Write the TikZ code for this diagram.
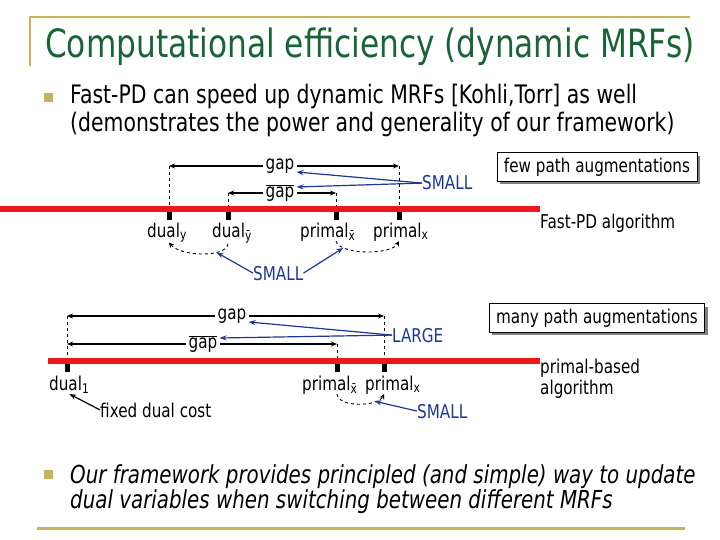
\documentclass[tikz,border=0pt]{standalone}
\usepackage{fontspec}
\setmainfont[FakeStretch=0.8]{DejaVu Sans}
\usetikzlibrary{arrows.meta,positioning,calc,shadows}
\definecolor{gold}{RGB}{200,178,90}
\definecolor{titlegreen}{RGB}{25,100,55}
\definecolor{smallblue}{RGB}{30,55,150}
\definecolor{barred}{RGB}{235,25,25}

\begin{document}
\begin{tikzpicture}[x=1pt,y=-1pt,>=Stealth,
  lbl/.style={font=\fontsize{19}{22}\selectfont,inner sep=0pt,anchor=base west},
  gaptxt/.style={font=\fontsize{19}{22}\selectfont,inner sep=2pt},
  bluetxt/.style={lbl,text=smallblue},
  tickbox/.style={fill=black,inner sep=0pt,minimum width=5pt,minimum height=8pt},
  redbar/.style={line width=6pt,barred},
  dimarr/.style={->,line width=1.2pt,>={Stealth[length=6pt,width=5pt]}},
  guide/.style={dashed,line width=0.6pt},
  swaparr/.style={->,dashed,line width=0.9pt,>={Stealth[length=5pt,width=5pt]}},
  bluearr/.style={->,smallblue,line width=1.2pt,>={Stealth[length=7pt,width=5pt]}},
  blackarr/.style={->,line width=1.2pt,>={Stealth[length=7pt,width=5pt]}},
  augbox/.style={draw,fill=white,line width=0.8pt,inner xsep=7pt,inner ysep=5pt,
    font=\fontsize{19}{22}\selectfont,
    drop shadow={shadow xshift=3pt,shadow yshift=-3pt,fill=black!50,opacity=1}},
  bulletsq/.style={fill=gold,minimum size=9pt,inner sep=0pt},
  bodytext/.style={anchor=base west,inner sep=0pt,font=\fontsize{25.5}{30}\selectfont}]
  \useasboundingbox (0,0) rectangle (720,540);

  % frame and title
  \draw[gold,line width=2pt] (30,66) -- (30,17) -- (690,17);
  \draw[gold,line width=3pt] (37,528) -- (685,528);
  \node[anchor=base west,inner sep=0pt,text=titlegreen,font=\fontsize{39}{44}\selectfont] (title) at (45,58) {Computational efficiency (dynamic MRFs)};
  \node[bulletsq] (b1) at (48,98) {};
  \node[bodytext] (b1a) at (70,104) {Fast-PD can speed up dynamic MRFs [Kohli,Torr] as well};
  \node[bodytext] (b1b) at (70,132) {(demonstrates the power and generality of our framework)};

  % Fast-PD
  \node[gaptxt] (g1) at (280,166) {gap};
  \node[gaptxt] (g1b) at (280,193) {$\overline{\mbox{gap}}$};
  \foreach \n/\x in {ty/169,tyb/228,txb/336,tx/399}
    \coordinate (\n) at (\x,216);
  \draw[guide] (ty |- g1) -- (ty);
  \draw[guide] (tx |- g1) -- (tx);
  \draw[guide] (tyb |- g1b) -- (tyb);
  \draw[guide] (txb |- g1b) -- (txb);
  \draw[redbar] (0,209) -- (540,209);
  \foreach \n in {ty,tyb,txb,tx}
    \node[tickbox] at (\n) {};
  \draw[dimarr] (g1.west) -- (ty |- g1.west);
  \draw[dimarr] (g1.east) -- (tx |- g1.east);
  \draw[dimarr] (g1b.west) -- (tyb |- g1b.west);
  \draw[dimarr] (g1b.east) -- (txb |- g1b.east);
  \node[lbl] (ly) at (147,237) {dual\textsubscript{y}};
  \node[lbl] (lyb) at (212,237) {dual\textsubscript{ȳ}};
  \node[lbl] (lxb) at (300,237) {primal\textsubscript{x̄}};
  \node[lbl] (lx) at (373,237) {primal\textsubscript{x}};
  \draw[swaparr] (tyb |- lyb.south) .. controls +(-2,14) and +(12,14) .. (ty |- ly.south) coordinate[pos=.3] (cy);
  \draw[swaparr] (txb |- lxb.south) .. controls +(4,14) and +(-8,14) .. (tx |- lx.south) coordinate[pos=.2] (cx);
  \node[bluetxt] (s1) at (422,190) {SMALL};
  \draw[bluearr] (s1.west) -- ($(g1.east)+(0,6)$);
  \draw[bluearr] (s1.west) -- ($(g1b.east)+(0,-6)$);
  \node[bluetxt] (s2) at (253,280) {SMALL};
  \draw[bluearr] (s2.west) -- (cy);
  \draw[bluearr] (s2.east) -- (cx);
  \node[augbox] (few) at (597,167) {few path augmentations};
  \node[lbl] (alg1) at (540,229) {Fast-PD algorithm};

  % primal-based
  \node[gaptxt] (g2) at (232,316) {gap};
  \node[gaptxt] (g2b) at (203,344) {$\overline{\mbox{gap}}$};
  \foreach \n/\x in {t1/67,tpb/337,tp/384}
    \coordinate (\n) at (\x,368);
  \draw[guide] (t1 |- g2) -- (t1);
  \draw[guide] (tp |- g2) -- (tp);
  \draw[guide] (tpb |- g2b) -- (tpb);
  \draw[redbar] (48,361) -- (540,361);
  \foreach \n in {t1,tpb,tp}
    \node[tickbox] at (\n) {};
  \draw[dimarr] (g2.west) -- (t1 |- g2.west);
  \draw[dimarr] (g2.east) -- (tp |- g2.east);
  \draw[dimarr] (g2b.west) -- (t1 |- g2b.west);
  \draw[dimarr] (g2b.east) -- (tpb |- g2b.east);
  \node[lbl] (ld1) at (49,390) {dual\textsubscript{1}};
  \node[lbl] (lpb) at (302,390) {primal\textsubscript{x̄}};
  \node[lbl] (lp) at (365,390) {primal\textsubscript{x}};
  \node[lbl] (fix) at (100,417) {fixed dual cost};
  \draw[blackarr] (fix.west) -- (ld1.south);
  \draw[swaparr] (tpb |- lpb.south) .. controls +(2,14) and +(-6,12) .. (tp |- lp.south) coordinate[pos=.75] (cp);
  \node[bluetxt] (lg) at (392,342) {LARGE};
  \draw[bluearr] (lg.west) -- ($(g2.east)+(0,6)$);
  \draw[bluearr] (lg.west) -- ($(g2b.east)+(0,-6)$);
  \node[bluetxt] (s3) at (417,418) {SMALL};
  \draw[bluearr] (s3.west) -- (cp);
  \node[augbox] (many) at (597,318) {many path augmentations};
  \node[lbl] (alg2a) at (540,373) {primal-based};
  \node[lbl] (alg2b) at (540,394) {algorithm};

  \node[bulletsq] (b2) at (48,474) {};
  \node[bodytext,font=\fontsize{24.8}{30}\selectfont\itshape] (b2a) at (70,483) {Our framework provides principled (and simple) way to update};
  \node[bodytext,font=\fontsize{24.8}{30}\selectfont\itshape] (b2b) at (70,508) {dual variables when switching between different MRFs};
\end{tikzpicture}
\end{document}
